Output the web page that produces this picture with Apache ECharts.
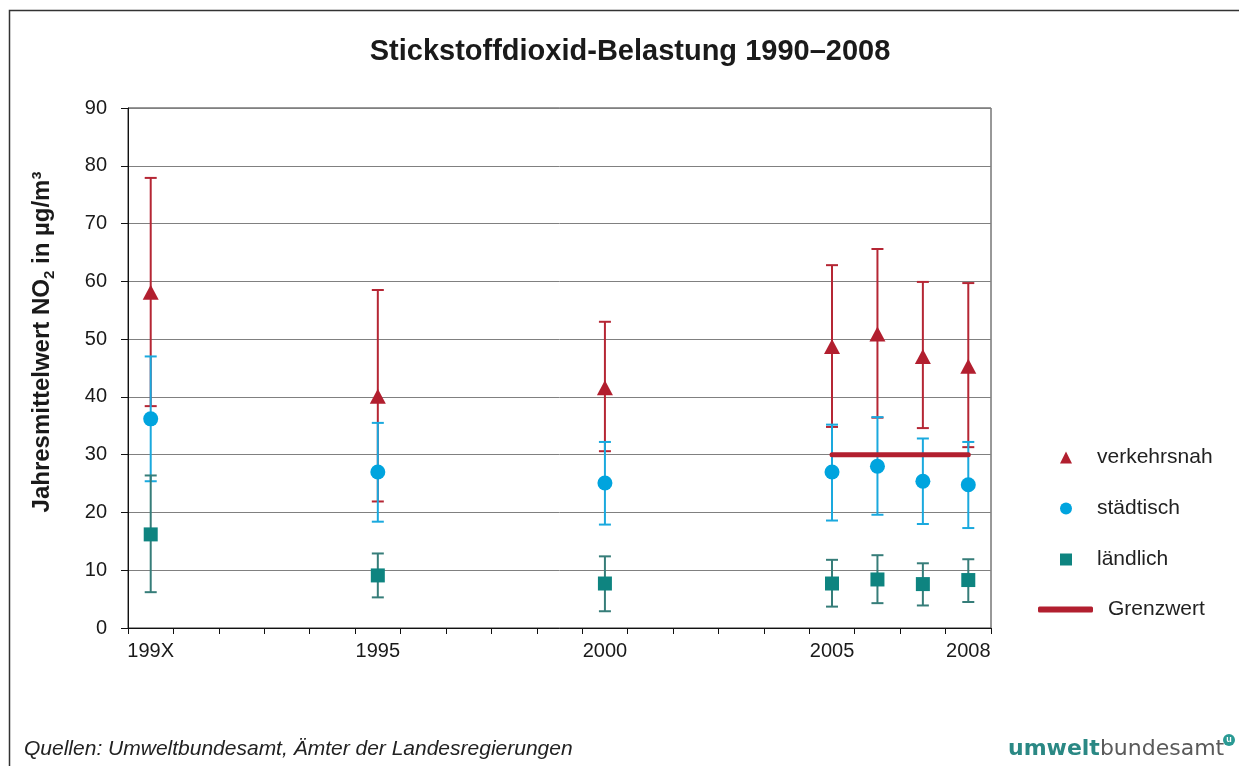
<!DOCTYPE html>
<html>
<head>
<meta charset="utf-8">
<script src="https://cdn.jsdelivr.net/npm/echarts@6/dist/echarts.min.js"></script>
<style>
html,body{margin:0;padding:0;background:#fff;}
#chart{width:1239px;height:766px;}
</style>
</head>
<body>
<div id="chart"></div>
<script>
// ---- data ----
const categories = ['1990','1991','1992','1993','1994','1995','1996','1997','1998','1999','2000','2001','2002','2003','2004','2005','2006','2007','2008'];
const shownLabels = ['1990','1995','2000','2005','2008'];
const years = ['1990','1995','2000','2005','2006','2007','2008'];
const verkehrsnahMean = [58.1, 40.1, 41.6, 48.7, 50.9, 47.0, 45.3];
const verkehrsnahMax  = [77.9, 58.5, 53.0, 62.8, 65.6, 59.9, 59.7];
const verkehrsnahMin  = [38.4, 21.9, 30.6, 34.8, 36.4, 34.6, 31.3];
const staedtischMean  = [36.2, 27.0, 25.1, 27.0, 28.0, 25.4, 24.8];
const staedtischMax   = [47.0, 35.5, 32.2, 35.2, 36.5, 32.8, 32.2];
const staedtischMin   = [25.4, 18.4, 17.9, 18.6, 19.6, 18.0, 17.3];
const laendlichMean   = [16.2, 9.1, 7.7, 7.7, 8.4, 7.6, 8.3];
const laendlichMax    = [26.4, 12.9, 12.4, 11.8, 12.6, 11.2, 11.9];
const laendlichMin    = [6.2, 5.3, 2.9, 3.7, 4.3, 3.9, 4.5];
const grenzwertYears  = ['2005','2006','2007','2008'];
const grenzwertValues = [30, 30, 30, 30];

const FONT = "'Liberation Sans', Arial, sans-serif";
const RED = '#B21F2F', RED_BAR = '#B52634';
const BLUE = '#00A4DE', BLUE_BAR = '#1AA9DE';
const TEAL = '#0E8480', TEAL_BAR = '#367D79';

function pts(means) { return years.map((y, i) => [y, means[i]]); }
function bars(mins, maxs) { return years.map((y, i) => [y, mins[i], maxs[i]]); }

function errorBar(color) {
  return function (params, api) {
    const x = api.value(0);
    const lo = api.coord([x, api.value(1)]);
    const hi = api.coord([x, api.value(2)]);
    const hw = 6;
    const style = { stroke: color, lineWidth: 2, fill: null };
    return {
      type: 'group',
      children: [
        { type: 'line', shape: { x1: lo[0], y1: lo[1], x2: hi[0], y2: hi[1] }, style },
        { type: 'line', shape: { x1: lo[0] - hw, y1: lo[1], x2: lo[0] + hw, y2: lo[1] }, style },
        { type: 'line', shape: { x1: hi[0] - hw, y1: hi[1], x2: hi[0] + hw, y2: hi[1] }, style }
      ]
    };
  };
}

const chart = echarts.init(document.getElementById('chart'), null, { renderer: 'canvas' });
chart.setOption({
  backgroundColor: '#fff',
  animation: false,
  title: {
    text: 'Stickstoffdioxid-Belastung 1990–2008',
    left: 625, top: 32, textAlign: 'center',
    textStyle: { fontFamily: FONT, fontSize: 29, fontWeight: 'bold', color: '#1a1a1a' }
  },
  legend: [
    {
      orient: 'vertical', left: 1060, top: 447, padding: 0,
      itemWidth: 12, itemHeight: 12, itemGap: 30,
      data: [
        { name: 'verkehrsnah', icon: 'triangle' },
        { name: 'städtisch', icon: 'circle' },
        { name: 'ländlich', icon: 'rect' }
      ],
      textStyle: { fontFamily: FONT, fontSize: 21, color: '#222', lineHeight: 21, padding: [0, 0, 0, 20] },
      selectedMode: false
    },
    {
      orient: 'vertical', left: 1038, top: 599, padding: 0,
      itemWidth: 55, itemHeight: 6,
      data: [{ name: 'Grenzwert', icon: 'roundRect' }],
      textStyle: { fontFamily: FONT, fontSize: 21, color: '#222', lineHeight: 21, padding: [0, 0, 0, 10] },
      selectedMode: false
    }
  ],
  grid: {
    left: 128, right: 248, top: 108, bottom: 138,
    show: true, borderColor: '#333', borderWidth: 1, backgroundColor: 'transparent'
  },
  xAxis: {
    type: 'category',
    data: categories,
    boundaryGap: true,
    axisLine: { show: true, lineStyle: { color: '#111', width: 1 } },
    axisTick: { show: true, interval: 0, alignWithLabel: false, length: 6, lineStyle: { color: '#111' } },
    axisLabel: {
      interval: function (idx, val) { return shownLabels.indexOf(val) >= 0; },
      formatter: function (v) { return v === '1990' ? '199X' : v; },
      fontFamily: FONT, fontSize: 20, color: '#1a1a1a', margin: 13
    },
    splitLine: { show: false }
  },
  yAxis: {
    type: 'value', min: 0, max: 90, interval: 10,
    name: 'Jahresmittelwert NO{sub|2} in µg/m³',
    nameLocation: 'middle', nameGap: 71, nameRotate: 90,
    nameTextStyle: {
      fontFamily: FONT, fontSize: 24, fontWeight: 'bold', color: '#1a1a1a',
      lineHeight: 30, padding: [0, 0, 0, 52],
      rich: { sub: { fontFamily: FONT, fontSize: 15, fontWeight: 'bold', color: '#1a1a1a', verticalAlign: 'bottom', lineHeight: 16 } }
    },
    axisLine: { show: true, lineStyle: { color: '#111', width: 1 } },
    axisTick: { show: true, length: 7, lineStyle: { color: '#111' } },
    axisLabel: { fontFamily: FONT, fontSize: 20, color: '#1a1a1a', margin: 21 },
    splitLine: { show: true, lineStyle: { color: '#808080', width: 1 } }
  },
  series: [
    { name: 'verkehrsnah-err', type: 'custom', renderItem: errorBar(RED_BAR), data: bars(verkehrsnahMin, verkehrsnahMax), encode: { x: 0, y: [1, 2] }, z: 2, silent: true },
    { name: 'städtisch-err', type: 'custom', renderItem: errorBar(BLUE_BAR), data: bars(staedtischMin, staedtischMax), encode: { x: 0, y: [1, 2] }, z: 3, silent: true },
    { name: 'ländlich-err', type: 'custom', renderItem: errorBar(TEAL_BAR), data: bars(laendlichMin, laendlichMax), encode: { x: 0, y: [1, 2] }, z: 4, silent: true },
    {
      name: 'Grenzwert', type: 'line',
      data: grenzwertYears.map((y, i) => [y, grenzwertValues[i]]),
      symbol: 'none', color: RED,
      lineStyle: { color: RED, width: 5, cap: 'round' }, z: 5
    },
    { name: 'verkehrsnah', type: 'scatter', data: pts(verkehrsnahMean), symbol: 'triangle', symbolSize: [16, 15], itemStyle: { color: RED, opacity: 1 }, z: 6 },
    { name: 'städtisch', type: 'scatter', data: pts(staedtischMean), symbol: 'circle', symbolSize: 15, itemStyle: { color: BLUE, opacity: 1 }, z: 6 },
    { name: 'ländlich', type: 'scatter', data: pts(laendlichMean), symbol: 'rect', symbolSize: 14, itemStyle: { color: TEAL, opacity: 1 }, z: 6 }
  ],
  graphic: [
    { type: 'polyline', shape: { points: [[9.5, 766], [9.5, 10.5], [1239, 10.5]] }, style: { stroke: '#333', lineWidth: 1.5, fill: null }, silent: true },
    {
      type: 'text', left: 24, top: 739,
      style: { text: 'Quellen: Umweltbundesamt, Ämter der Landesregierungen', font: "italic 21px 'Liberation Sans', Arial, sans-serif", fill: '#222' }
    },
    {
      type: 'text', left: 1008, top: 738,
      style: {
        text: '{a|umwelt}{b|bundesamt}',
        rich: {
          a: { fontFamily: "'DejaVu Sans', sans-serif", fontSize: 22, fontWeight: 'bold', fill: '#2A8884', color: '#2A8884' },
          b: { fontFamily: "'DejaVu Sans', sans-serif", fontSize: 22, fill: '#5a5a5a', color: '#5a5a5a' }
        }
      }
    },
    { type: 'circle', shape: { cx: 1229, cy: 740, r: 6 }, style: { fill: '#2A9A94' } },
    { type: 'text', style: { text: 'u', x: 1229, y: 740, align: 'center', verticalAlign: 'middle', font: "bold 9px 'Liberation Sans', sans-serif", fill: '#fff' } }
  ]
});
</script>
</body>
</html>
